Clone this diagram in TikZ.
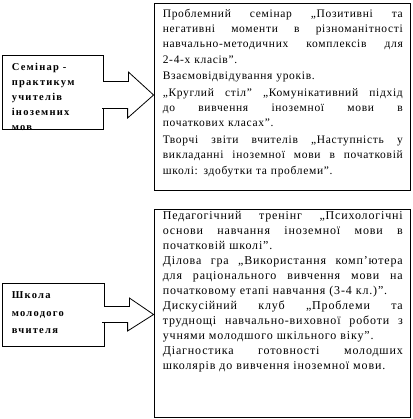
\documentclass[tikz,border=0pt]{standalone}
\usepackage{fontspec}
\setmainfont{Liberation Serif}
\usetikzlibrary{positioning}

\newcommand{\jl}[1]{\makebox[240pt][s]{\spaceskip=0pt\xspaceskip=0pt #1}}

\begin{document}
\begin{tikzpicture}[x=1pt, y=-1pt,
  frame/.style={rectangle, draw=black, line width=0.8pt, inner sep=0pt, fill=white},
  txt/.style={inner sep=0pt, text width=240pt, align=left,
              font=\fontsize{11.5}{15.2}\selectfont\addfontfeature{LetterSpace=6}},
  lbl/.style={inner sep=0pt, align=left,
              font=\fontsize{10.5}{15}\selectfont\bfseries\addfontfeature{LetterSpace=12}},
  blockarrow/.style={draw=black, line width=0.8pt, fill=white, line join=miter}
]
  \useasboundingbox (0,0) rectangle (412,419);

  \node[frame, minimum width=256pt, minimum height=187pt] (zahodyA) at (282,96.5) {};
  \node[frame, minimum width=256pt, minimum height=208pt] (zahodyB) at (282,313) {};
  \node[frame, minimum width=101pt, minimum height=74pt]  (seminar) at (52.5,92) {};
  \node[frame, minimum width=102pt, minimum height=63pt]  (shkola)  at (53,314.5) {};

  % arrows out of the left boxes
  \coordinate (a1) at ([shift={(0,3)}]seminar.east);
  \draw[blockarrow] ([shift={(-0.4,-13.5)}]a1) -- ++(25.4,0) -- ++(0,-9.5)
    -- (zahodyA.west |- a1) -- ++(-26,23) -- ++(0,-9.5) -- ++(-25.4,0);
  \coordinate (a2) at (shkola.east);
  \draw[blockarrow] ([shift={(-0.4,-8)}]a2) -- ++(25.4,0) -- ++(0,-8.5)
    -- (zahodyB.west |- a2) -- ++(-26,16.5) -- ++(0,-8.5) -- ++(-25.4,0);

  \node[lbl, anchor=north west] (seminartxt) at ([shift={(10,8.5)}]seminar.north west)
    {Семінар -\\практикум\\учителів\\іноземних\\мов};
  \node[lbl, anchor=north west, font=\fontsize{10.5}{17.5}\selectfont\bfseries\addfontfeature{LetterSpace=12}]
    (shkolatxt) at ([shift={(10,9)}]shkola.north west)
    {Школа\\молодого\\вчителя};

  \node[txt, anchor=north west] (zahodyAtxt) at ([shift={(9,6.5)}]zahodyA.north west)
    {\jl{Проблемний семінар „Позитивні та}\\
     \jl{негативні моменти в різноманітності}\\
     \jl{навчально-методичних комплексів для}\\
     2-4-х класів”.\\[1.5pt]
     Взаємовідвідування уроків.\\[1.5pt]
     \jl{„Круглий стіл” „Комунікативний підхід}\\
     \jl{до вивчення іноземної мови в}\\
     початкових класах”.\\[1.5pt]
     \jl{Творчі звіти вчителів „Наступність у}\\
     \jl{викладанні іноземної мови в початковій}\\
     школі: здобутки та проблеми”.};

  \node[txt, anchor=north west, font=\fontsize{12}{15}\selectfont\addfontfeature{LetterSpace=7}]
    (zahodyBtxt) at ([shift={(9,2.5)}]zahodyB.north west)
    {\jl{Педагогічний тренінг „Психологічні}\\
     \jl{основи навчання іноземної мови в}\\
     початковій школі”.\\
     \jl{Ділова гра „Використання комп’ютера}\\
     \jl{для раціонального вивчення мови на}\\
     початковому етапі навчання (3-4 кл.)”.\\
     \jl{Дискусійний клуб „Проблеми та}\\
     \jl{труднощі навчально-виховної роботи з}\\
     учнями молодшого шкільного віку”.\\
     \jl{Діагностика готовності молодших}\\
     школярів до вивчення іноземної мови.};
\end{tikzpicture}
\end{document}
